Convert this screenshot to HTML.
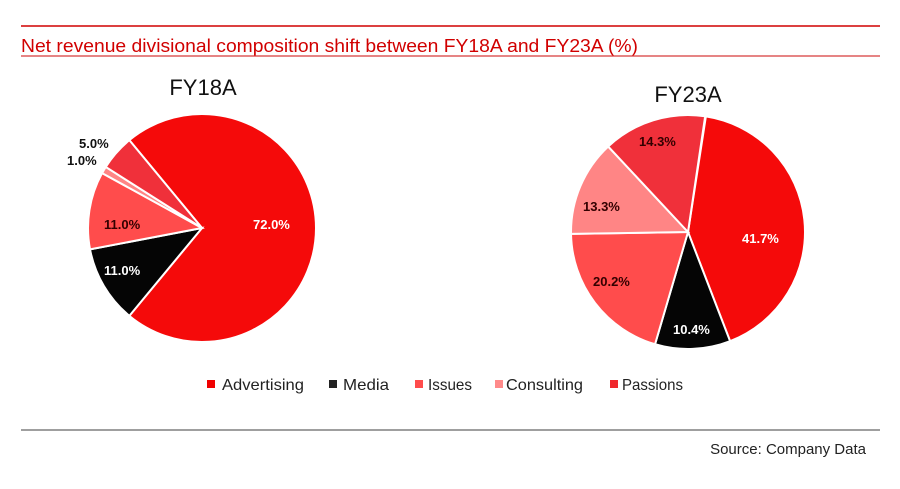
<!DOCTYPE html>
<html><head><meta charset="utf-8"><style>
body{margin:0;background:#fff;width:900px;height:489px;overflow:hidden}
svg{display:block}
</style></head><body>
<svg id="s" width="900" height="489" xmlns="http://www.w3.org/2000/svg" font-family="Liberation Sans, Arial, sans-serif">
<rect width="900" height="489" fill="#fff"/>
<line x1="21" y1="26" x2="880" y2="26" stroke="#d10000" stroke-width="1.5"/>
<text x="21" y="52" fill="#d10000" font-size="18" textLength="617" lengthAdjust="spacingAndGlyphs">Net revenue divisional composition shift between FY18A and FY23A (%)</text>
<line x1="21" y1="56" x2="880" y2="56" stroke="#d83a3a" stroke-width="1.2"/>
<text x="203" y="95" text-anchor="middle" font-size="22" fill="#111">FY18A</text>
<text x="688" y="102" text-anchor="middle" font-size="22" fill="#111">FY23A</text>
<g id="p1"></g><g id="p2"></g>
<g font-weight="bold" font-size="13">
<text x="253" y="229" fill="#fff">72.0%</text>
<text x="104" y="229" fill="#300">11.0%</text>
<text x="104" y="275" fill="#fff">11.0%</text>
<text x="79" y="148" fill="#111">5.0%</text>
<text x="67" y="165" fill="#111">1.0%</text>
<text x="742" y="243" fill="#fff">41.7%</text>
<text x="673" y="334" fill="#fff">10.4%</text>
<text x="593" y="286" fill="#300">20.2%</text>
<text x="583" y="211" fill="#300">13.3%</text>
<text x="639" y="146" fill="#300">14.3%</text>
</g>
<g font-size="16" fill="#222">
<rect x="207" y="380" width="8" height="8" fill="#f00000"/><text x="222" y="390" textLength="82" lengthAdjust="spacingAndGlyphs">Advertising</text>
<rect x="329" y="380" width="8" height="8" fill="#222"/><text x="343" y="390" textLength="46" lengthAdjust="spacingAndGlyphs">Media</text>
<rect x="415" y="380" width="8" height="8" fill="#ff4c4c"/><text x="428" y="390" textLength="44" lengthAdjust="spacingAndGlyphs">Issues</text>
<rect x="495" y="380" width="8" height="8" fill="#ff8a8a"/><text x="506" y="390" textLength="77" lengthAdjust="spacingAndGlyphs">Consulting</text>
<rect x="610" y="380" width="8" height="8" fill="#f0282d"/><text x="622" y="390" textLength="61" lengthAdjust="spacingAndGlyphs">Passions</text>
</g>
<line x1="21" y1="430" x2="880" y2="430" stroke="#666" stroke-width="1.2"/>
<text x="866" y="454" text-anchor="end" font-size="15" fill="#222">Source: Company Data</text>
</svg>
<script>
function pie(id,cx,cy,r,start,vals,cols){
 var g=document.getElementById(id),a=start,h='';
 for(var i=0;i<vals.length;i++){
  var b=a+vals[i]*3.6;
  var p=function(t){t=t*Math.PI/180;return (cx+r*Math.sin(t)).toFixed(2)+','+(cy-r*Math.cos(t)).toFixed(2);};
  h+='<path d="M'+cx+','+cy+' L'+p(a)+' A'+r+','+r+' 0 '+(b-a>180?1:0)+' 1 '+p(b)+' Z" fill="'+cols[i]+'" stroke="#fff" stroke-width="2"/>';
  a=b;
 }
 g.innerHTML=h;
}
var c=['#f50a0a','#050505','#ff4c4c','#ff8585','#f0303a'];
pie('p1',202,228,114,-39.6,[72,11,11,1,5],c);
pie('p2',688,232,117,8.8,[41.7,10.4,20.2,13.3,14.3],c);
</script>
</body></html>
